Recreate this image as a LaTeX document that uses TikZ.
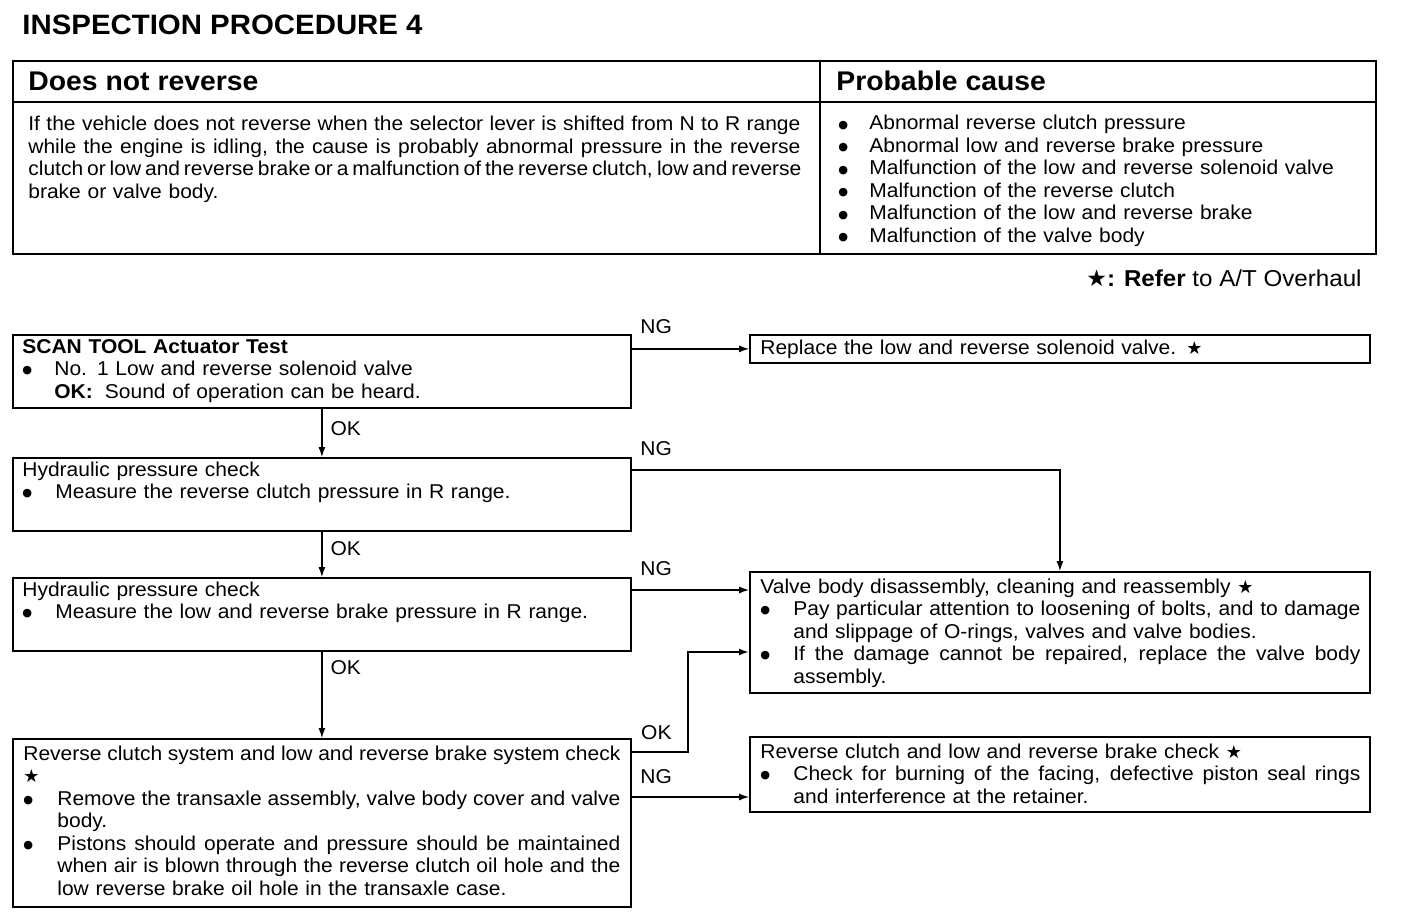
\documentclass[tikz,border=0pt]{standalone}
\usepackage{fontspec}
\setmainfont{Liberation Sans}[FakeStretch=1.05]
\newfontfamily\symfont{DejaVu Sans}
\usetikzlibrary{arrows.meta}
\newcommand{\starmark}{{\symfont\small ★}}
\newcommand{\jline}[2]{\makebox[#1][s]{\spaceskip=0pt\xspaceskip=0pt #2}}
\newcommand{\bul}[1]{\makebox[#1][l]{\raisebox{1pt}{\symfont\fontsize{5.6}{6}\selectfont ●}}}
\begin{document}
\begin{tikzpicture}[x=0.5pt, y=-0.5pt,
  box/.style={draw, line width=0.9pt, anchor=north west, inner sep=0pt},
  txt/.style={anchor=base west, inner sep=0pt, align=left, font=\fontsize{10}{11.25}\selectfont},
  lbl/.style={inner sep=0pt, font=\fontsize{10}{12}\selectfont},
  flow/.style={line width=0.6pt, -{Latex[length=5pt,width=3.5pt]}}]
\useasboundingbox (0,0) rectangle (1408,920);
\node[anchor=base west, inner sep=0pt, font=\fontsize{14}{16}\selectfont\bfseries] (title) at (22,35) {INSPECTION PROCEDURE 4};
% symptom table
\node[box, minimum width=681.5pt, minimum height=96.5pt] (tbl) at (12,60) {};
\draw[line width=0.9pt] (820,60) -- (820,253);
\draw[line width=0.9pt] (12,102) -- (1375,102);
\node[anchor=base west, inner sep=0pt, font=\fontsize{13.5}{15}\selectfont\bfseries] (symhead) at (28,91) {Does not reverse};
\node[anchor=base west, inner sep=0pt, font=\fontsize{13.5}{15}\selectfont\bfseries] (causehead) at (836,91) {Probable cause};
\node[txt, text width=392pt] (symtxt) at (28,131) {%
  \jline{386pt}{If the vehicle does not reverse when the selector lever is shifted from N to R range}\\
  \jline{386pt}{while the engine is idling, the cause is probably abnormal pressure in the reverse}\\
  \jline{386pt}{clutch or low and reverse brake or a malfunction of the reverse clutch, low and reverse}\\
  brake or valve body.};
\node[txt, text width=272pt] (causetxt) at (838,130) {%
  \bul{15.5pt}Abnormal reverse clutch pressure\\
  \bul{15.5pt}Abnormal low and reverse brake pressure\\
  \bul{15.5pt}Malfunction of the low and reverse solenoid valve\\
  \bul{15.5pt}Malfunction of the reverse clutch\\
  \bul{15.5pt}Malfunction of the low and reverse brake\\
  \bul{15.5pt}Malfunction of the valve body};
\node[anchor=base east, inner sep=0pt, font=\fontsize{11.5}{13}\selectfont] (note) at (1362,286) {{\symfont ★}\textbf{: Refer} to A/T Overhaul};
% check boxes
\node[box, minimum width=309pt, minimum height=36.5pt] (b1) at (12,334) {};
\node[box, minimum width=309pt, minimum height=36.5pt] (b2) at (12,457) {};
\node[box, minimum width=309pt, minimum height=36.5pt] (b3) at (12,577) {};
\node[box, minimum width=309pt, minimum height=84pt] (b4) at (12,738) {};
\node[box, minimum width=310pt, minimum height=14pt] (r1) at (749,334) {};
\node[box, minimum width=310pt, minimum height=60.5pt] (r2) at (749,571) {};
\node[box, minimum width=310pt, minimum height=37.5pt] (r3) at (749,736) {};
\node[txt, text width=300pt] (b1txt) at (22,353) {%
  \textbf{SCAN TOOL Actuator Test}\\
  \bul{16pt}No. 1 Low and reverse solenoid valve\\
  \hspace*{16pt}\textbf{OK:}\hspace{6pt}Sound of operation can be heard.};
\node[txt, text width=300pt] (b2txt) at (22,476) {%
  Hydraulic pressure check\\
  \bul{16.5pt}Measure the reverse clutch pressure in R range.};
\node[txt, text width=300pt] (b3txt) at (22,596) {%
  Hydraulic pressure check\\
  \bul{16.5pt}Measure the low and reverse brake pressure in R range.};
\node[txt, text width=302pt] (b4txt) at (23,760) {%
  \jline{298.5pt}{Reverse clutch system and low and reverse brake system check}\\
  \starmark\\
  \bul{17pt}\jline{281.5pt}{Remove the transaxle assembly, valve body cover and valve}\\
  \hspace*{17pt}body.\\
  \bul{17pt}\jline{281.5pt}{Pistons should operate and pressure should be maintained}\\
  \hspace*{17pt}\jline{281.5pt}{when air is blown through the reverse clutch oil hole and the}\\
  \hspace*{17pt}low reverse brake oil hole in the transaxle case.};
\node[txt, text width=302pt] (r1txt) at (760,354) {Replace the low and reverse solenoid valve. \starmark};
\node[txt, text width=302pt] (r2txt) at (760,593) {%
  Valve body disassembly, cleaning and reassembly \starmark\\
  \bul{16.5pt}\jline{283.5pt}{Pay particular attention to loosening of bolts, and to damage}\\
  \hspace*{16.5pt}and slippage of O-rings, valves and valve bodies.\\
  \bul{16.5pt}\jline{283.5pt}{If the damage cannot be repaired, replace the valve body}\\
  \hspace*{16.5pt}assembly.};
\node[txt, text width=302pt] (r3txt) at (760,758) {%
  Reverse clutch and low and reverse brake check \starmark\\
  \bul{16.5pt}\jline{283.5pt}{Check for burning of the facing, defective piston seal rings}\\
  \hspace*{16.5pt}and interference at the retainer.};
% connectors
\draw[flow] (r1.west -| b1.east) node[lbl, anchor=base west, xshift=4pt, yshift=7.5pt] {NG} -- (r1.west);
\draw[flow] (b1.south) node[lbl, anchor=north west, xshift=4pt, yshift=-6pt] {OK} -- (b2.north);
\draw[flow] ([shift={(0,13)}]b2.north east) node[lbl, anchor=base west, xshift=4pt, yshift=7.25pt] {NG} -| (r2.north);
\draw[flow] (b2.south) node[lbl, anchor=north west, xshift=4pt, yshift=-4.75pt] {OK} -- (b3.north);
\draw[flow] ([shift={(0,13)}]b3.north east) node[lbl, anchor=base west, xshift=4pt, yshift=7.25pt] {NG} -- ([shift={(0,13)}]b3.north east -| r2.west);
\draw[flow] (b3.south) node[lbl, anchor=north west, xshift=4pt, yshift=-4.25pt] {OK} -- (b4.north);
\draw[flow, line width=1.4pt] ([shift={(0,14)}]b4.north east) node[lbl, anchor=base west, xshift=4pt, yshift=6.25pt] {OK} -| ([shift={(-61,81)}]r2.north west) -- ([shift={(0,81)}]r2.north west);
\draw[flow] ([shift={(0,61)}]r3.north west -| b4.east) node[lbl, anchor=base west, xshift=4pt, yshift=6.75pt] {NG} -- ([shift={(0,61)}]r3.north west);
\end{tikzpicture}
\end{document}
